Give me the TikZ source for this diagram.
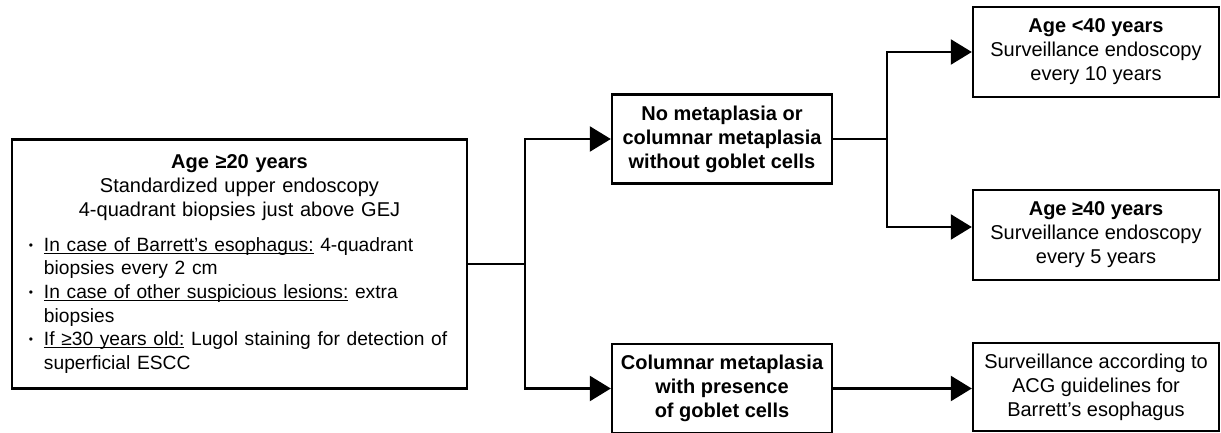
\documentclass[tikz,border=0pt]{standalone}
\usepackage{fontspec}
\setmainfont{Liberation Sans}
\usetikzlibrary{arrows.meta,positioning}
% underline drawn close to the baseline, as in the figure
\newcommand{\undl}[1]{\setbox0=\hbox{#1}\rlap{\rule[-2.4pt]{\wd0}{1.1pt}}\box0\relax}
% one bullet point: first line, then the hanging second line
\newcommand{\bpoint}[2]{\par\noindent\hangindent=32pt\hangafter=1\makebox[32pt][l]{\hspace{17pt}\raisebox{2pt}{\fontsize{12}{12}\selectfont\textbullet}}\mbox{#1}\newline #2\par}

\begin{document}
\begin{tikzpicture}[x=1pt,y=-1pt,
  basebox/.style={draw,line width=2.4pt,inner sep=0pt,font=\fontsize{20}{24}\selectfont},
  mainbox/.style={basebox,text width=455pt,minimum height=249pt},
  condbox/.style={basebox,align=center,font=\fontsize{20}{24}\selectfont\bfseries,minimum width=220pt,minimum height=89pt},
  plainbox/.style={basebox,align=center,minimum width=246pt,minimum height=90pt},
  link/.style={line width=2.4pt},
  arr/.style={link,-{Triangle[length=21pt,width=25pt]}}]
  \useasboundingbox (0,0) rectangle (1221,433);
  \node[mainbox] (screen) at (239.5,264) {%
    {\centering\textbf{Age ≥20 years}\par Standardized upper endoscopy\par 4-quadrant biopsies just above GEJ\par}
    \vspace{11pt}\raggedright\fontsize{19.2}{23.6}\selectfont
    \bpoint{\undl{In case of Barrett’s esophagus:} 4-quadrant}{biopsies every 2 cm}
    \bpoint{\undl{In case of other suspicious lesions:} extra}{biopsies}
    \bpoint{\undl{If ≥30 years old:} Lugol staining for detection of}{superficial ESCC}};
  \node[condbox] (nometa) at (722,139) {No metaplasia or\\columnar metaplasia\\without goblet cells};
  \node[condbox] (goblet) at (722,388.5) {Columnar metaplasia\\with presence\\of goblet cells};
  \node[plainbox] (young) at (1096,52) {\textbf{Age <40 years}\\Surveillance endoscopy\\every 10 years};
  \node[plainbox] (older) at (1096,235) {\textbf{Age ≥40 years}\\Surveillance endoscopy\\every 5 years};
  \node[plainbox,minimum height=88pt] (acg) at (1096,387) {Surveillance according to\\ACG guidelines for\\Barrett’s esophagus};
  \draw[link] (screen.east) -- ++(57,0) coordinate (fork1);
  \draw[arr] (fork1) |- (nometa.west);
  \draw[arr] (fork1) |- (goblet.west);
  \draw[link] (nometa.east) -- ++(54,0) coordinate (fork2);
  \draw[arr] (fork2) |- (young.west);
  \draw[arr] (fork2) |- ([yshift=8pt]older.west);
  \draw[arr] (goblet.east) -- (goblet.east -| acg.west);
\end{tikzpicture}
\end{document}
